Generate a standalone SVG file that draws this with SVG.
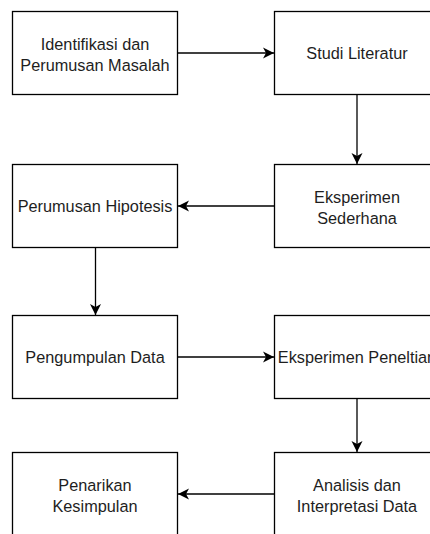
<svg xmlns="http://www.w3.org/2000/svg" width="430" height="534" viewBox="0 0 430 534">
<defs>
<style>
.box{fill:#fff;stroke:#000;stroke-width:1.3}
.lbl{font-family:"Liberation Sans",Arial,Helvetica,sans-serif;font-size:16.3px;fill:#1e1e1e;text-anchor:middle}
.con{stroke:#000;stroke-width:1.3;fill:none}
</style>
<marker id="ah" viewBox="0 0 12 12" refX="11" refY="6" markerWidth="12" markerHeight="12" markerUnits="userSpaceOnUse" orient="auto">
<path d="M0,0.5 L11,6 L0,11.5 L3,6 Z" fill="#000"/>
</marker>
</defs>
<rect width="430" height="534" fill="#fff"/>
<g id="connectors">
<line class="con" x1="177.5" y1="53" x2="274" y2="53" marker-end="url(#ah)"/>
<line class="con" x1="357" y1="94.5" x2="357" y2="164" marker-end="url(#ah)"/>
<line class="con" x1="274.5" y1="206" x2="178" y2="206" marker-end="url(#ah)"/>
<line class="con" x1="95.5" y1="247.5" x2="95.5" y2="315" marker-end="url(#ah)"/>
<line class="con" x1="177.5" y1="357" x2="274" y2="357" marker-end="url(#ah)"/>
<line class="con" x1="357" y1="398.5" x2="357" y2="452" marker-end="url(#ah)"/>
<line class="con" x1="274.5" y1="494" x2="178" y2="494" marker-end="url(#ah)"/>
</g>
<g id="n1"><rect class="box" x="12.5" y="11.5" width="165" height="83"/><text class="lbl" x="95" y="49.5">Identifikasi dan</text><text class="lbl" x="95" y="70.5">Perumusan Masalah</text></g>
<g id="n2"><rect class="box" x="274.5" y="11.5" width="165" height="83"/><text class="lbl" x="357" y="58.5">Studi Literatur</text></g>
<g id="n3"><rect class="box" x="274.5" y="164.5" width="165" height="83"/><text class="lbl" x="357" y="203">Eksperimen</text><text class="lbl" x="357" y="224">Sederhana</text></g>
<g id="n4"><rect class="box" x="12.5" y="164.5" width="165" height="83"/><text class="lbl" x="95" y="212">Perumusan Hipotesis</text></g>
<g id="n5"><rect class="box" x="12.5" y="315.5" width="165" height="83"/><text class="lbl" x="95" y="363">Pengumpulan Data</text></g>
<g id="n6"><rect class="box" x="274.5" y="315.5" width="165" height="83"/><text class="lbl" x="357" y="363">Eksperimen Peneltian</text></g>
<g id="n7"><rect class="box" x="274.5" y="452.5" width="165" height="83"/><text class="lbl" x="357" y="491">Analisis dan</text><text class="lbl" x="357" y="512">Interpretasi Data</text></g>
<g id="n8"><rect class="box" x="12.5" y="452.5" width="165" height="83"/><text class="lbl" x="95" y="491">Penarikan</text><text class="lbl" x="95" y="512">Kesimpulan</text></g>
</svg>
